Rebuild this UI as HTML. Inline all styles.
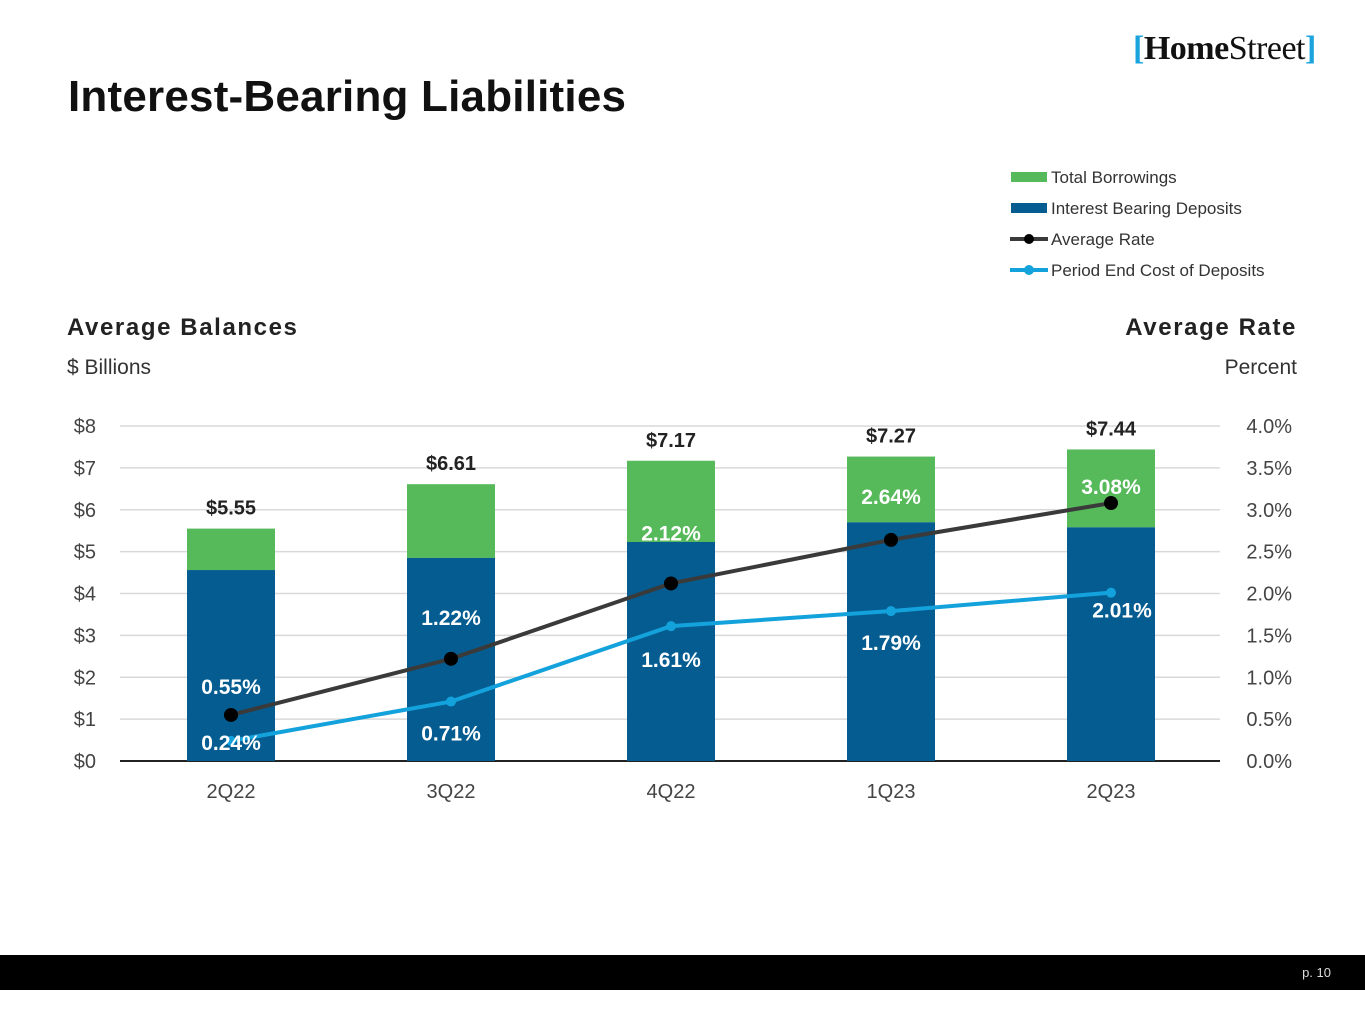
<!DOCTYPE html>
<html><head><meta charset="utf-8"><style>
body{margin:0;width:1365px;height:1024px;background:#fff;font-family:"Liberation Sans",sans-serif;position:relative;overflow:hidden}
.a{position:absolute}
</style></head><body>
<div class="a" style="left:68px;top:72px;font-size:44px;font-weight:bold;color:#111;letter-spacing:0.2px">Interest-Bearing Liabilities</div>
<div class="a" style="left:1133px;top:30px;font-family:'Liberation Serif',serif;font-size:34px;color:#111;letter-spacing:-0.5px"><span style="color:#1aa3dc;font-weight:bold">[</span><b>Home</b>Street<span style="color:#1aa3dc;font-weight:bold">]</span></div>
<div class="a" style="left:67px;top:314px;font-size:24px;font-weight:bold;color:#222;letter-spacing:1.6px">Average Balances</div>
<div class="a" style="left:67px;top:356px;font-size:21px;color:#333">$ Billions</div>
<div class="a" style="right:68px;top:314px;font-size:24px;font-weight:bold;color:#222;letter-spacing:1.6px">Average Rate</div>
<div class="a" style="right:68px;top:356px;font-size:21px;color:#333">Percent</div>
<svg class="a" style="left:0;top:0" width="1365" height="1024" id="chart"></svg>
<div class="a" style="left:0;top:955px;width:1365px;height:35px;background:#000"></div>
<div class="a" style="right:34px;top:965px;font-size:13px;color:#ddd">p. 10</div>
<script>
const categories=["2Q22","3Q22","4Q22","1Q23","2Q23"];
const deposits=[4.56,4.85,5.23,5.70,5.58];
const totals=[5.55,6.61,7.17,7.27,7.44];
const totalLabels=["$5.55","$6.61","$7.17","$7.27","$7.44"];
const avgRate=[0.55,1.22,2.12,2.64,3.08];
const costDep=[0.24,0.71,1.61,1.79,2.01];
const leftTicks=["$0","$1","$2","$3","$4","$5","$6","$7","$8"];
const rightTicks=["0.0%","0.5%","1.0%","1.5%","2.0%","2.5%","3.0%","3.5%","4.0%"];
const svg=document.getElementById('chart');const NS='http://www.w3.org/2000/svg';
function mk(t,a,txt){const e=document.createElementNS(NS,t);for(const k in a)e.setAttribute(k,a[k]);if(txt!==undefined)e.textContent=txt;svg.appendChild(e);return e;}
const y0=761,yT=426,xL=120,xR=1220;
const yB=v=>y0-(y0-yT)*v/8, yP=v=>y0-(y0-yT)*v/4, xC=i=>231+i*220;
leftTicks.forEach((t,i)=>{const g=mk('line',{x1:xL,x2:xR,y1:yB(i),y2:yB(i),stroke:i?'#d9d9d9':'#222','stroke-width':i?1.5:2});
const l=mk('text',{x:96,y:yB(i)+7,'text-anchor':'end','font-size':20,fill:'#444'},t);});
rightTicks.forEach((t,i)=>{const l=mk('text',{x:1292,y:yP(i/2)+7,'text-anchor':'end','font-size':20,fill:'#444'},t);});
categories.forEach((c,i)=>{const x=xC(i);
const g=mk('rect',{x:x-44,y:yB(totals[i]),width:88,height:yB(deposits[i])-yB(totals[i]),fill:'#56b95a'});
const b=mk('rect',{x:x-44,y:yB(deposits[i]),width:88,height:y0-yB(deposits[i]),fill:'#045c90'});
const t=mk('text',{x:x,y:yB(totals[i])-14,'text-anchor':'middle','font-size':20,'font-weight':'bold',fill:'#222'},totalLabels[i]);
const cl=mk('text',{x:x,y:798,'text-anchor':'middle','font-size':20,fill:'#444'},c);});
function line(vals,color,dot,name){const p=mk('polyline',{points:vals.map((v,i)=>xC(i)+','+yP(v)).join(' '),fill:'none',stroke:color,'stroke-width':4});
vals.forEach((v,i)=>{const c=mk('circle',{cx:xC(i),cy:yP(v),r:dot,fill:color==='#3a3a3a'?'#000':color});});}
line(costDep,'#14a2dc',5,'cost-of-deposits');line(avgRate,'#3a3a3a',7,'average-rate');
const avgOff=[-21,-34,-43,-36,-9], costOff=[0,39,41,39,25], costDx=[0,0,0,0,11];
avgRate.forEach((v,i)=>{const t=mk('text',{x:xC(i),y:yP(v)+avgOff[i],'text-anchor':'middle','font-size':21,'font-weight':'bold',fill:'#fff'},v.toFixed(2)+'%');});
costDep.forEach((v,i)=>{const t=mk('text',{x:xC(i)+costDx[i],y:i==0?750:yP(v)+costOff[i],'text-anchor':'middle','font-size':21,'font-weight':'bold',fill:'#fff'},v.toFixed(2)+'%');});
const leg=[["Total Borrowings","#56b95a","bar"],["Interest Bearing Deposits","#045c90","bar"],["Average Rate","#3a3a3a","line"],["Period End Cost of Deposits","#14a2dc","line"]];
leg.forEach((l,i)=>{const y=177+i*31;
if(l[2]=='bar'){const r=mk('rect',{x:1011,y:y-5,width:36,height:10,fill:l[1]});}
else{const r=mk('line',{x1:1010,x2:1048,y1:y,y2:y,stroke:l[1],'stroke-width':4});const c=mk('circle',{cx:1029,cy:y,r:5,fill:i==2?'#000':l[1]});}
const t=mk('text',{x:1051,y:y+6,'font-size':17,fill:'#333'},l[0]);});
</script>
</body></html>
